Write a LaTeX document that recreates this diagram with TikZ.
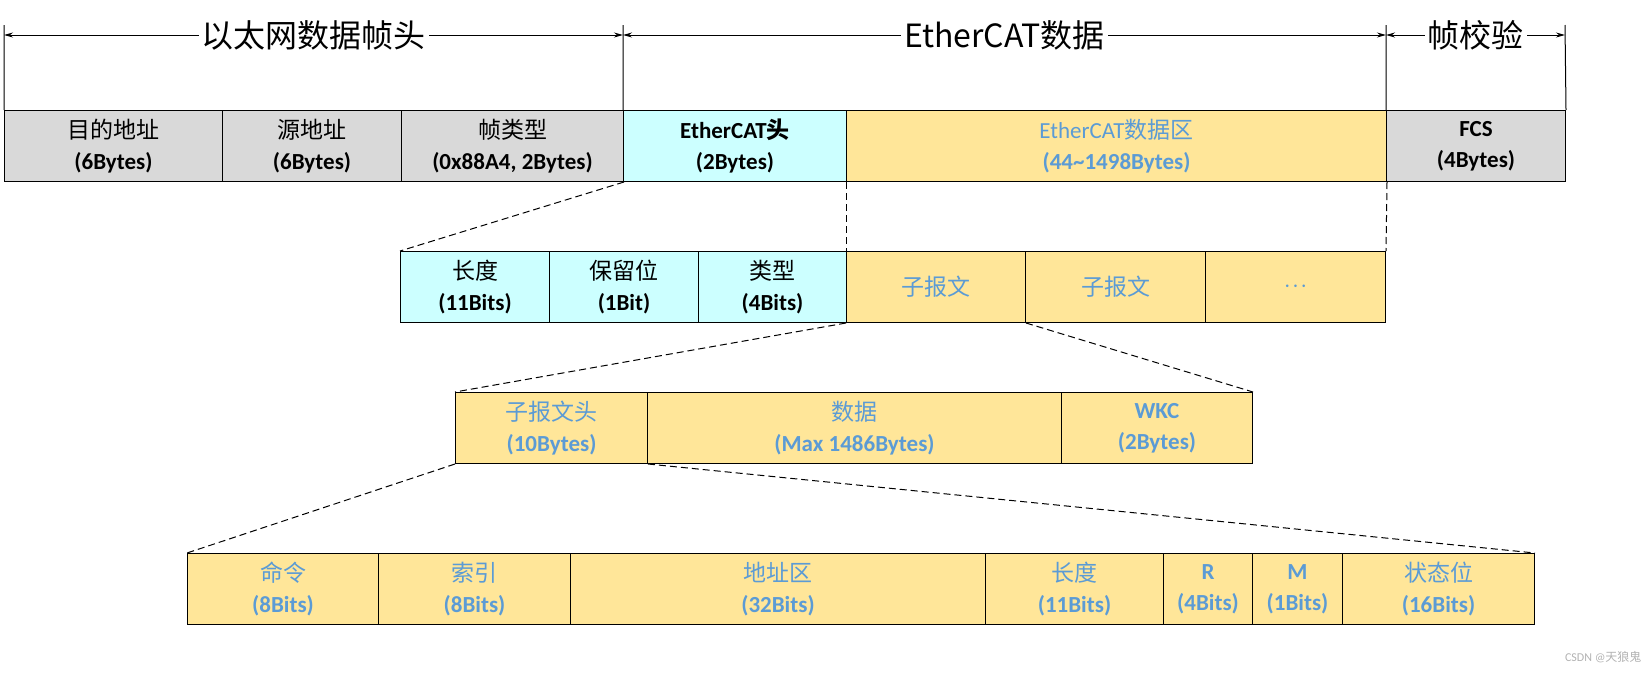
\documentclass[tikz,border=0pt]{standalone}
\usepackage{fontspec}
\setmainfont{Carlito}
\newfontfamily\cjk{Noto Sans CJK SC}
\usetikzlibrary{arrows.meta}
\definecolor{gbox}{HTML}{D9D9D9}
\definecolor{cbox}{HTML}{CCFFFF}
\definecolor{ybox}{HTML}{FFE699}
\definecolor{btxt}{HTML}{5B9BD5}
\begin{document}
\begin{tikzpicture}[x=1pt,y=-1pt,
 box/.style={draw=black,line width=1pt,minimum height=71pt,anchor=north west,inner sep=0pt,align=center,font=\fontsize{23}{31}\selectfont},
 gb/.style={box,fill=gbox,text=black},
 cb/.style={box,fill=cbox,text=black},
 yb/.style={box,fill=ybox,text=btxt},
 dl/.style={dash pattern=on 7pt off 4pt,line width=1pt},
 ar/.style={{Stealth[length=9pt,width=5pt]}-{Stealth[length=9pt,width=5pt]},line width=1pt},
 lab/.style={fill=white,inner sep=3pt,font=\fontsize{32}{32}\selectfont\cjk}]
\useasboundingbox (0,0) rectangle (1649,673);
% row 1
\node[gb,minimum width=218pt] (a1) at (4,110) {{\cjk 目的地址}\\\textbf{(6Bytes)}};
\node[gb,minimum width=179pt] (a2) at (222,110) {{\cjk 源地址}\\\textbf{(6Bytes)}};
\node[gb,minimum width=222pt] (a3) at (401,110) {{\cjk 帧类型}\\\textbf{(0x88A4, 2Bytes)}};
\node[cb,minimum width=223pt] (a4) at (623,110) {\textbf{EtherCAT{\cjk 头}}\\\textbf{(2Bytes)}};
\node[yb,minimum width=540pt] (a5) at (846,110) {EtherCAT{\cjk 数据区}\\\textbf{(44\textasciitilde1498Bytes)}};
\node[gb,minimum width=179pt] (a6) at (1386,110) {\textbf{FCS}\\\textbf{(4Bytes)}};
% top arrows
\coordinate (t1) at (4,35); \coordinate (t2) at (623,35); \coordinate (t3) at (1386,35); \coordinate (t4) at (1565,35);
\draw[line width=1pt] (a1.north west) -- (4,25) (a4.north west) -- (623,25) (a6.north west) -- (1386,25) (a6.north east) -- (1565,25);
\draw[ar] (t1) -- node[lab] (l1) {以太网数据帧头} (t2);
\draw[ar] (t2) -- node[lab] (l2) {EtherCAT数据} (t3);
\draw[ar] (t3) -- node[lab] (l3) {帧校验} (t4);
% row 2
\node[cb,minimum width=149pt] (b1) at (400,251) {{\cjk 长度}\\\textbf{(11Bits)}};
\node[cb,minimum width=149pt] (b2) at (549,251) {{\cjk 保留位}\\\textbf{(1Bit)}};
\node[cb,minimum width=148pt] (b3) at (698,251) {{\cjk 类型}\\\textbf{(4Bits)}};
\node[yb,minimum width=179pt] (b4) at (846,251) {\cjk 子报文};
\node[yb,minimum width=180pt] (b5) at (1025,251) {\cjk 子报文};
\node[yb,minimum width=180pt] (b6) at (1205,251) {\textbf{$\cdot\!\cdot\!\cdot$}};
\draw[dl] (a3.south east) -- (b1.north west);
\draw[dl] (a5.south west) -- (b4.north west);
\draw[dl] (a5.south east) -- (b6.north east);
% row 3
\node[yb,minimum width=192pt] (c1) at (455,392) {{\cjk 子报文头}\\\textbf{(10Bytes)}};
\node[yb,minimum width=414pt] (c2) at (647,392) {{\cjk 数据}\\\textbf{(Max 1486Bytes)}};
\node[yb,minimum width=191pt] (c3) at (1061,392) {\textbf{WKC}\\\textbf{(2Bytes)}};
\draw[dl] (b4.south west) -- (c1.north west);
\draw[dl] (b4.south east) -- (c3.north east);
% row 4
\node[yb,minimum width=191pt] (d1) at (187,553) {{\cjk 命令}\\\textbf{(8Bits)}};
\node[yb,minimum width=192pt] (d2) at (378,553) {{\cjk 索引}\\\textbf{(8Bits)}};
\node[yb,minimum width=415pt] (d3) at (570,553) {{\cjk 地址区}\\\textbf{(32Bits)}};
\node[yb,minimum width=178pt] (d4) at (985,553) {{\cjk 长度}\\\textbf{(11Bits)}};
\node[yb,minimum width=89pt] (d5) at (1163,553) {\textbf{R}\\\textbf{(4Bits)}};
\node[yb,minimum width=90pt] (d6) at (1252,553) {\textbf{M}\\\textbf{(1Bits)}};
\node[yb,minimum width=192pt] (d7) at (1342,553) {{\cjk 状态位}\\\textbf{(16Bits)}};
\draw[dl] (c1.south west) -- (d1.north west);
\draw[dl] (c1.south east) -- (d7.north east);
\node[text=gray!60,font=\fontsize{12}{12}\selectfont,anchor=east] (wm) at (1645,657) {CSDN @{\cjk 天狼鬼}};
\end{tikzpicture}
\end{document}
